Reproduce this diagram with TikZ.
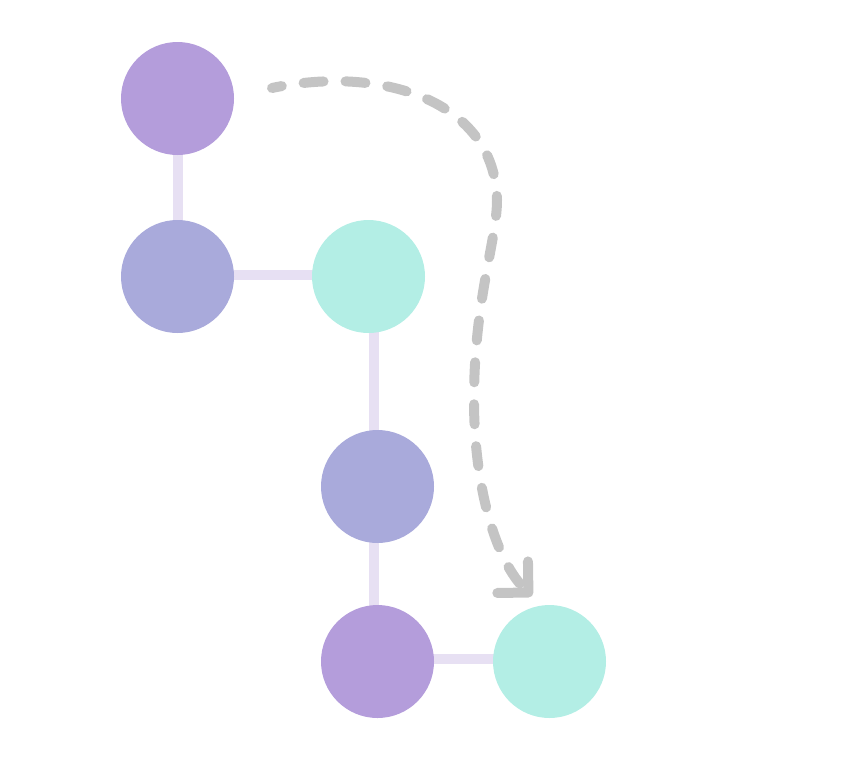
\documentclass[tikz,border=0pt]{standalone}
\usetikzlibrary{arrows.meta,backgrounds}

\definecolor{nodepurple}{HTML}{B49DDB}
\definecolor{nodeblue}{HTML}{A9AADB}
\definecolor{nodeteal}{HTML}{B3EEE5}
\definecolor{edgelilac}{HTML}{E7E0F3}
\definecolor{movegray}{HTML}{C4C4C4}

\begin{document}
\begin{tikzpicture}[x=1pt, y=-1pt]

		% Styles
		\tikzset{
			dot/.style={circle, minimum size=113pt, inner sep=0pt},
			edge/.style={draw=edgelilac, line width=10pt},
			move/.style={draw=movegray, line width=10pt, line cap=round,
				dash pattern=on 20pt off 22pt, dash phase=10pt,
				-{Straight Barb[length=22pt, width=44pt, round]}}
		}

		\useasboundingbox (0,0) rectangle (859,777);

		% Nodes
		\node[dot, fill=nodepurple] (top) at (177.5,98.5) {};
		\node[dot, fill=nodeblue] (left) at (177.5,276.5) {};
		\node[dot, fill=nodeteal] (mid) at (368.5,276.5) {};
		\node[dot, fill=nodeblue] (low) at (377.5,486.5) {};
		\node[dot, fill=nodepurple] (base) at (377.5,661.5) {};
		\node[dot, fill=nodeteal] (goal) at (549.5,661.5) {};

		% Edges
		\begin{scope}[on background layer]
			\draw[edge] ([xshift=0.5pt]top.center) -- ([xshift=0.5pt]left.center);
			\draw[edge] ([yshift=1.5pt]left.center) -- ([yshift=1.5pt]mid.center);
			\draw[edge] ([xshift=5pt]mid.center) -- ([xshift=-4pt]low.center);
			\draw[edge] ([xshift=-3.5pt]low.center) -- ([xshift=-3.5pt]base.center);
			\draw[edge] ([yshift=2.5pt]base.center) -- ([yshift=2.5pt]goal.center);
		\end{scope}

		% Move
		\coordinate (from) at (272,88);
		\coordinate (turn) at (497,200);
		\coordinate (down) at (474,400);
		\coordinate (to) at (532,596);
		\draw[move] (from) .. controls (380,65) and (495,100) .. (turn)
			.. controls (497,240) and (474,300) .. (down)
			.. controls (474,490) and (497,562) .. (to);

\end{tikzpicture}
\end{document}
